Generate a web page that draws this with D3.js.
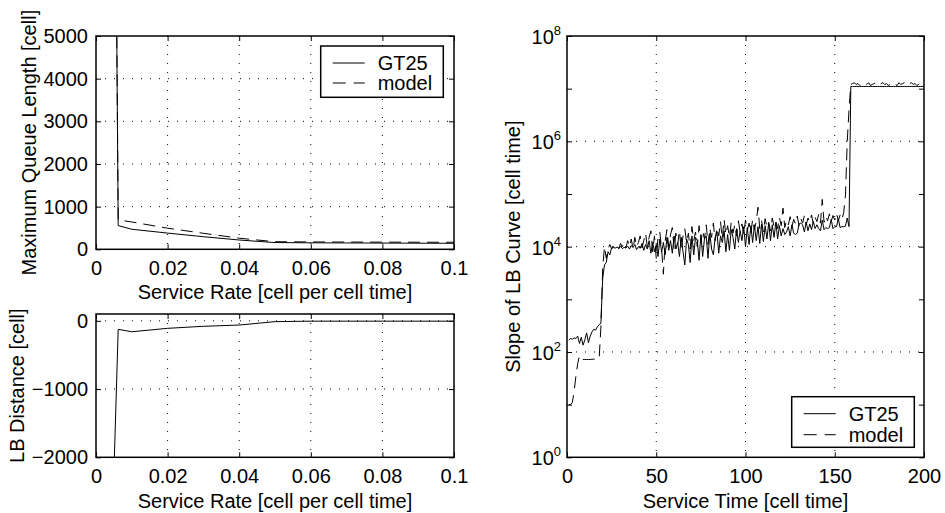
<!DOCTYPE html>
<html>
<head>
<meta charset="utf-8">
<script src="https://cdn.jsdelivr.net/npm/d3@7"></script>
<style>
  html, body { margin: 0; padding: 0; background: #fff; }
  svg text { font-family: "Liberation Sans", Arial, Helvetica, sans-serif; font-size: 20px; fill: #000; }
</style>
</head>
<body>
<svg id="chart" width="945" height="513"></svg>
<script>
// ---- Service-rate sweep (left panels) ----
const rate = [0.005, 0.0062, 0.01, 0.02, 0.03, 0.04, 0.05, 0.06, 0.07, 0.08, 0.09, 0.1];
const queueGT25 = [13900, 555, 470, 380, 295, 218, 158, 152, 149, 146, 143, 140];
const queueModel = [13900, 690, 640, 495, 375, 260, 178, 172, 170, 168, 166, 165];
const lbDistance = [-2230, -125, -160, -110, -80, -62, -12, -5, -5, -5, -5, -5];

const rateTicks = [0, 0.02, 0.04, 0.06, 0.08, 0.1];
const rateTickLabels = ["0", "0.02", "0.04", "0.06", "0.08", "0.1"];
const queueTicks = [0, 1000, 2000, 3000, 4000, 5000];
const queueTickLabels = ["0", "1000", "2000", "3000", "4000", "5000"];
const lbTicks = [-2000, -1000, 0];
const lbTickLabels = ["\u22122000", "\u22121000", "0"];

// ---- Service-time sweep (right panel), service time 1..200 ----
const gt25Slope = [
  170, 180, 175, 185, 180, 200, 145, 190, 135, 170,
  230, 150, 200, 240, 270, 260, 300, 330, 350, 2500,
  4500, 5000, 8000, 7000, 9500, 9600, 9400, 9800, 9500, 10000,
  9200, 9700, 9400, 10200, 9000, 10500, 9600, 11000, 8800, 10000,
  9300, 11500, 8500, 11000, 9000, 13000, 7500, 12000, 8000, 11000,
  6500, 14000, 8000, 12000, 7000, 15000, 8500, 13000, 7500, 16000,
  9000, 12000, 6500, 15000, 8000, 4500, 14000, 11000, 5000, 16000,
  7000, 15000, 13000, 5500, 17000, 6500, 14000, 16000, 6000, 18000,
  9000, 7000, 15000, 19000, 7500, 16000, 12000, 20000, 8000, 17000,
  8500, 21000, 15000, 9000, 22000, 12000, 20000, 13000, 24000, 10000,
  23000, 11000, 25000, 12000, 26000, 13000, 24000, 11500, 27000, 12500,
  25000, 14000, 28000, 13000, 26000, 15000, 29000, 14000, 25000, 16000,
  22000, 17000, 19000, 24000, 16000, 26000, 18000, 17000, 18000, 27000,
  28000, 26000, 19000, 29000, 20000, 27000, 21000, 30000, 22000, 26000,
  22000, 20000, 32000, 21000, 23000, 22000, 23000, 33000, 22000, 24000,
  24000, 34000, 23000, 24000, 24000, 24500, 35000, 24000, 1.1e7, 1.1e7,
  1.1e7, 1.1e7, 1.1e7, 1.1e7, 1.1e7, 1.1e7, 1.1e7, 1.1e7, 1.1e7, 1.1e7,
  1.1e7, 1.1e7, 1.1e7, 1.1e7, 1.1e7, 1.1e7, 1.1e7, 1.1e7, 1.1e7, 1.1e7,
  1.1e7, 1.1e7, 1.1e7, 1.1e7, 1.1e7, 1.1e7, 1.1e7, 1.1e7, 1.1e7, 1.1e7,
  1.1e7, 1.1e7, 1.1e7, 1.1e7, 1.1e7, 1.1e7, 1.1e7, 1.1e7, 1.1e7, 1.1e7
];
const modelSlope = [
  10, 10, 11, 18, 35, 60, 85, 75, 72, 72,
  72, 72, 72, 73, 73, 73, 73, 74, 300, 4000,
  10000, 6000, 9000, 11000, 9000, 10000, 9500, 10500, 9000, 11500,
  10000, 12000, 9500, 13000, 10000, 14000, 9000, 15000, 10000, 12000,
  16000, 9500, 13000, 18000, 10000, 15000, 20000, 8000, 16000, 6000,
  15000, 19000, 9000, 3000, 13000, 21000, 10000, 17000, 23000, 9000,
  18000, 11000, 20000, 8500, 16000, 22000, 12000, 18000, 9000, 24000,
  13000, 19000, 10000, 25000, 12000, 20000, 14000, 26000, 11000, 22000,
  15000, 28000, 13000, 23000, 16000, 30000, 14000, 33000, 17000, 25000,
  15000, 29000, 18000, 26000, 16000, 31000, 19000, 27000, 17000, 32000,
  20000, 28000, 18000, 33000, 21000, 30000, 56000, 22000, 31000, 19000,
  34000, 23000, 29000, 20000, 35000, 24000, 30000, 22000, 36000, 25000,
  54000, 23000, 32000, 26000, 37000, 24000, 33000, 27000, 38000, 25000,
  34000, 28000, 39000, 26000, 35000, 29000, 40000, 27000, 36000, 30000,
  41000, 28000, 79000, 29000, 38000, 31000, 42000, 30000, 39000, 32000,
  43000, 31000, 40000, 33000, 44000, 95000, 1.0e6, 4.0e6, 1.2e7, 1.25e7,
  1.3e7, 1.2e7, 1.25e7, 1.15e7, 1.2e7, 1.3e7, 1.25e7, 1.2e7, 1.3e7, 1.15e7,
  1.2e7, 1.25e7, 1.3e7, 1.2e7, 1.15e7, 1.25e7, 1.3e7, 1.2e7, 1.25e7, 1.15e7,
  1.2e7, 1.3e7, 1.25e7, 1.2e7, 1.15e7, 1.3e7, 1.2e7, 1.25e7, 1.3e7, 1.2e7,
  1.15e7, 1.25e7, 1.3e7, 1.2e7, 1.25e7, 1.15e7, 1.2e7, 1.3e7, 1.25e7, 1.2e7
];
const timeTicks = [0, 50, 100, 150, 200];
const slopeLabelExponents = [0, 2, 4, 6, 8];
const slopeTickExponents = [0, 1, 2, 3, 4, 5, 6, 7, 8];

const seriesNames = ["GT25", "model"];

// ---- layout ----
const svg = d3.select("#chart");
const DASH = "12,7";
const GRID_DASH = "1,8";
const TICK = 5;

const xRate = d3.scaleLinear().domain([0, 0.1]).range([96, 454]);
const yQueue = d3.scaleLinear().domain([0, 5000]).range([249.3, 36]);
const yLB = d3.scaleLinear().domain([-2000, 100]).range([457.3, 314]);
const xTime = d3.scaleLinear().domain([0, 200]).range([567, 924]);
const ySlope = d3.scaleLog().domain([1, 1e8]).range([457.3, 36]);

function drawPanel(o) {
  const [x0, x1] = o.x.range();
  const [yb, yt] = o.y.range();
  const g = svg.append("g");

  svg.append("clipPath").attr("id", o.id)
    .append("rect").attr("x", x0).attr("y", yt).attr("width", x1 - x0).attr("height", yb - yt);

  // dotted grid
  g.append("g").selectAll("line").data(o.xGrid).join("line")
    .attr("x1", d => o.x(d)).attr("x2", d => o.x(d))
    .attr("y1", yt).attr("y2", yb)
    .attr("stroke", "#000").attr("stroke-width", 1).attr("stroke-dasharray", GRID_DASH);
  g.append("g").selectAll("line").data(o.yGrid).join("line")
    .attr("y1", d => o.y(d)).attr("y2", d => o.y(d))
    .attr("x1", x0).attr("x2", x1)
    .attr("stroke", "#000").attr("stroke-width", 1).attr("stroke-dasharray", GRID_DASH);

  // axes with inward ticks on all four sides
  const bottom = d3.axisBottom(o.x).tickValues(o.xTicks)
    .tickFormat((d, i) => o.xLabels[i]).tickSizeInner(-TICK).tickSizeOuter(0).tickPadding(12);
  const top = d3.axisTop(o.x).tickValues(o.xTicks).tickFormat("").tickSizeInner(-TICK).tickSizeOuter(0);
  const left = d3.axisLeft(o.y).tickValues(o.yTicks)
    .tickFormat(o.yLabels ? (d, i) => o.yLabels[i] : "").tickSizeInner(-TICK).tickSizeOuter(0).tickPadding(8);
  const right = d3.axisRight(o.y).tickValues(o.yTicks).tickFormat("").tickSizeInner(-TICK).tickSizeOuter(0);

  [[bottom, `translate(0,${yb})`], [top, `translate(0,${yt})`],
   [left, `translate(${x0},0)`], [right, `translate(${x1},0)`]].forEach(([ax, tr]) => {
    const a = g.append("g").attr("transform", tr).call(ax);
    a.select(".domain").remove();
    a.selectAll(".tick line").attr("stroke", "#000").attr("stroke-width", 1);
  });

  // data lines
  const lines = g.append("g").attr("clip-path", `url(#${o.id})`);
  o.series.forEach(s => {
    const line = d3.line().x((d, i) => o.x(s.xs[i])).y(d => o.y(d));
    lines.append("path").datum(s.values)
      .attr("d", line)
      .attr("fill", "none").attr("stroke", "#000").attr("stroke-width", 1)
      .attr("stroke-dasharray", s.dash || null);
  });

  // box
  g.append("rect").attr("x", x0).attr("y", yt).attr("width", x1 - x0).attr("height", yb - yt)
    .attr("fill", "none").attr("stroke", "#000").attr("stroke-width", 1.5);

  // titles
  g.append("text").attr("x", (x0 + x1) / 2).attr("y", o.xTitleY)
    .attr("text-anchor", "middle").text(o.xTitle);
  g.append("text").attr("transform", `translate(${o.yTitleX},${(yt + yb) / 2}) rotate(-90)`)
    .attr("text-anchor", "middle").text(o.yTitle);
  return g;
}

function drawLegend(x, y, w, h, rowGap) {
  const g = svg.append("g");
  g.append("rect").attr("x", x).attr("y", y).attr("width", w).attr("height", h)
    .attr("fill", "#fff").attr("stroke", "#000").attr("stroke-width", 1.5);
  seriesNames.forEach((name, i) => {
    const ry = y + 17 + i * rowGap;
    g.append("line").attr("x1", x + 12).attr("x2", x + 44).attr("y1", ry).attr("y2", ry)
      .attr("stroke", "#000").attr("stroke-width", 1)
      .attr("stroke-dasharray", i === 1 ? "13,8" : null);
    g.append("text").attr("x", x + 57).attr("y", ry + 7).text(name);
  });
}

// top-left: maximum queue length
drawPanel({
  id: "clipQueue", x: xRate, y: yQueue,
  xTicks: rateTicks, xLabels: rateTickLabels, yTicks: queueTicks, yLabels: queueTickLabels,
  xGrid: rateTicks.slice(1, -1), yGrid: queueTicks.slice(1, -1),
  series: [
    { xs: rate, values: queueGT25 },
    { xs: rate, values: queueModel, dash: DASH }
  ],
  xTitle: "Service Rate [cell per cell time]", xTitleY: 299,
  yTitle: "Maximum Queue Length [cell]", yTitleX: 36
});
drawLegend(320.7, 46, 122.6, 51.3, 20);

// bottom-left: LB distance
drawPanel({
  id: "clipLB", x: xRate, y: yLB,
  xTicks: rateTicks, xLabels: rateTickLabels, yTicks: lbTicks, yLabels: lbTickLabels,
  xGrid: rateTicks.slice(1, -1), yGrid: [-1000, 0],
  series: [{ xs: rate, values: lbDistance }],
  xTitle: "Service Rate [cell per cell time]", xTitleY: 508,
  yTitle: "LB Distance [cell]", yTitleX: 24
});

// right: slope of LB curve vs service time (log scale)
const serviceTime = gt25Slope.map((d, i) => i + 1);
const right = drawPanel({
  id: "clipSlope", x: xTime, y: ySlope,
  xTicks: timeTicks, xLabels: timeTicks.map(String),
  yTicks: slopeTickExponents.map(e => Math.pow(10, e)), yLabels: null,
  xGrid: timeTicks.slice(1, -1), yGrid: [1e2, 1e4, 1e6],
  series: [
    { xs: serviceTime, values: gt25Slope },
    { xs: serviceTime, values: modelSlope, dash: DASH }
  ],
  xTitle: "Service Time [cell time]", xTitleY: 508,
  yTitle: "Slope of LB Curve [cell time]", yTitleX: 520
});
// decade labels as 10 with superscript exponent
slopeLabelExponents.forEach(e => {
  const t = right.append("text")
    .attr("x", xTime.range()[0] - 6).attr("y", ySlope(Math.pow(10, e)) + 8)
    .attr("text-anchor", "end");
  t.append("tspan").text("10");
  t.append("tspan").attr("dy", -9).style("font-size", "13px").text(String(e));
});
drawLegend(791.7, 396.7, 122.6, 50.6, 21);
</script>
</body>
</html>
